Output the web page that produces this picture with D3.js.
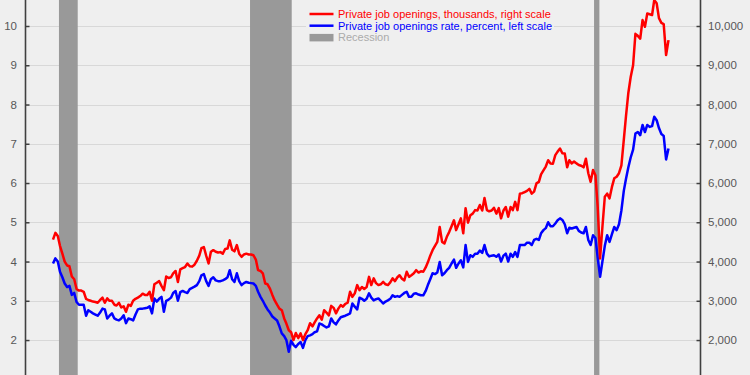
<!DOCTYPE html>
<html>
<head>
<meta charset="utf-8">
<script src="https://cdn.jsdelivr.net/npm/d3@7"></script>
<style>
  html, body { margin: 0; padding: 0; background: #efefef; overflow: hidden; }
  svg { display: block; font-family: "Liberation Sans", Arial, sans-serif; }
</style>
</head>
<body>
<div id="chart"></div>
<script>
// monthly data, first month Dec 2000
const startMonth = "2000-12";

// private job openings, thousands (right scale)
const openings = [
  4560,
  4730,4650,4400,4200,4000,3900,3880,3620,3550,3300,3260,3260,          // 2001
  3230,3050,3020,3000,2980,2970,2950,3020,3080,2950,3060,3000,          // 2002
  3000,2900,2880,2950,2830,2860,2720,2900,2870,3000,3050,3080,          // 2003
  3120,3180,3150,3150,3230,3000,3420,3460,3500,3380,3270,3620,          // 2004
  3580,3600,3700,3760,3480,3800,3830,3860,3950,3880,3870,3920,          // 2005
  4020,4150,4340,4370,4150,3950,4250,4290,4250,4230,4240,4200,          // 2006
  4320,4330,4540,4300,4260,4420,4200,4120,4180,4200,4180,4180,          // 2007
  4160,4050,3780,3760,3700,3440,3420,3310,3150,3010,2900,2800,          // 2008
  2760,2550,2420,2250,2200,2000,2180,2050,2170,2000,2150,2250,          // 2009
  2430,2350,2450,2550,2630,2520,2760,2700,2630,2870,2820,2680,          // 2010
  2800,2890,2850,2920,2950,3230,3100,3190,3400,3270,3350,3300,          // 2011
  3350,3610,3400,3570,3450,3400,3420,3480,3420,3400,3470,3570,          // 2012
  3500,3600,3650,3560,3520,3740,3610,3650,3700,3780,3720,3750,          // 2013
  3740,3850,3980,4150,4290,4400,4500,4880,4500,4460,4630,4750,          // 2014
  4900,5050,4800,4950,5100,4720,5360,4990,5180,5220,5310,5300,          // 2015
  5440,5300,5620,5310,5280,5300,5370,5220,5360,5100,5300,5390,          // 2016
  5140,5390,5310,5520,5310,5730,5740,5770,5800,5850,5730,5780,          // 2017
  5990,6030,6220,6320,6420,6580,6500,6490,6710,6800,6880,6760,          // 2018
  6750,6400,6580,6500,6550,6500,6460,6440,6400,6620,6250,6030,          // 2019
  6330,6200,5400,4080,4880,5650,5730,5610,5900,6120,6160,6250,          // 2020
  6450,7100,7700,8300,8700,9000,9800,9750,9680,10150,9980,10320,        // 2021
  10300,10280,10660,10580,10200,10080,10050,9260,9640                   // 2022
];

// private job openings rate, percent (left scale)
const openingsRate = [
  3.95,
  4.08,4.00,3.74,3.60,3.44,3.35,3.38,3.15,3.20,2.97,2.90,2.90,   // 2001
  2.90,2.62,2.76,2.72,2.68,2.65,2.62,2.70,2.80,2.78,2.55,2.62,   // 2002
  2.68,2.55,2.52,2.50,2.55,2.63,2.43,2.55,2.53,2.50,2.65,2.78,   // 2003
  2.80,2.80,2.81,2.82,2.86,2.68,3.06,2.98,3.05,3.10,2.72,3.00,   // 2004
  3.03,3.08,3.20,3.25,3.00,3.22,3.25,3.22,3.20,3.30,3.33,3.36,   // 2005
  3.40,3.50,3.65,3.68,3.50,3.38,3.55,3.60,3.52,3.50,3.50,3.52,   // 2006
  3.55,3.60,3.78,3.55,3.48,3.70,3.50,3.40,3.45,3.48,3.46,3.45,   // 2007
  3.44,3.38,3.23,3.10,3.00,2.88,2.78,2.70,2.60,2.55,2.50,2.35,   // 2008
  2.17,2.10,2.00,1.70,1.98,1.88,1.82,1.90,1.95,1.80,2.00,2.10,   // 2009
  2.12,2.15,2.20,2.22,2.42,2.40,2.36,2.32,2.35,2.55,2.45,2.40,   // 2010
  2.50,2.58,2.60,2.62,2.65,2.68,2.93,2.85,2.78,3.08,3.05,3.00,   // 2011
  3.05,3.19,3.08,3.01,3.04,3.06,3.00,2.93,2.98,3.01,3.05,3.14,   // 2012
  3.10,3.12,3.10,3.15,3.20,3.23,3.10,3.10,3.18,3.19,3.16,3.14,   // 2013
  3.14,3.25,3.40,3.55,3.70,3.68,3.72,3.99,3.65,3.70,3.78,3.84,   // 2014
  3.95,4.05,3.84,3.95,4.03,3.85,4.42,3.99,4.16,4.12,4.20,4.20,   // 2015
  4.28,4.22,4.42,4.20,4.13,4.15,4.16,4.12,4.18,4.00,4.15,4.20,   // 2016
  4.00,4.20,4.12,4.24,4.12,4.42,4.42,4.42,4.48,4.48,4.42,4.55,   // 2017
  4.58,4.55,4.72,4.80,4.85,5.00,4.90,4.90,4.97,5.05,5.10,5.06,   // 2018
  4.95,4.72,4.86,4.84,4.86,4.88,4.78,4.74,4.72,4.88,4.55,4.42,   // 2019
  4.67,4.60,4.10,3.61,4.00,4.40,4.67,4.50,4.70,4.88,4.80,4.95,   // 2020
  5.30,5.80,6.10,6.40,6.65,6.85,7.26,7.30,7.22,7.48,7.30,7.48,   // 2021
  7.43,7.45,7.69,7.60,7.40,7.25,7.20,6.60,6.88                   // 2022
];

// recession shading, as drawn
const recessions = [
  ["2001-02-16", "2001-10-16"],
  ["2007-11-18", "2009-05-09"],
  ["2020-01-14", "2020-03-23"]
];

const leftTicks = [1, 2, 3, 4, 5, 6, 7, 8, 9, 10];
const rightTicks = [1000, 2000, 3000, 4000, 5000, 6000, 7000, 8000, 9000, 10000];

const legendItems = [
  { label: "Private job openings, thousands, right scale", color: "#ff0000", type: "line" },
  { label: "Private job openings rate, percent, left scale", color: "#0000ff", type: "line" },
  { label: "Recession", color: "#999999", text: "#ababab", type: "box" }
];

const boxWidth = 750;
const boxHeight = 375;
const bg = '#efefef';
const axisColor = '#404040';

const svg = d3.select('#chart')
  .append('svg')
  .attr('width', boxWidth)
  .attr('height', boxHeight);

svg.append('rect')
  .attr('width', boxWidth)
  .attr('height', boxHeight)
  .attr('fill', bg);

const plotLeft = 25.5;
const plotRight = 700.5;

const parseMonth = d3.timeParse('%Y-%m');
const parseDay = d3.timeParse('%Y-%m-%d');
const first = parseMonth(startMonth);
const months = d3.timeMonth.range(first, d3.timeMonth.offset(first, openings.length));

// scales
const xScale = d3.scaleTime()
  .domain([months[0], months[months.length - 1]])
  .range([53, 668.5]);

const yLeft = d3.scaleLinear()
  .domain([1, 10])
  .range([379.3, 26]);

const yRight = d3.scaleLinear()
  .domain([1000, 10000])
  .range([379.3, 26]);

// gridlines
svg.append('g')
  .selectAll('line')
  .data(leftTicks)
  .enter()
  .append('line')
  .attr('x1', plotLeft)
  .attr('x2', plotRight)
  .attr('y1', d => Math.round(yLeft(d)) + 0.5)
  .attr('y2', d => Math.round(yLeft(d)) + 0.5)
  .attr('stroke', '#d8d8d8')
  .attr('stroke-width', 1);

// recession bars
svg.append('g')
  .selectAll('rect')
  .data(recessions)
  .enter()
  .append('rect')
  .attr('x', d => xScale(parseDay(d[0])))
  .attr('width', d => xScale(parseDay(d[1])) - xScale(parseDay(d[0])))
  .attr('y', 0)
  .attr('height', boxHeight)
  .attr('fill', '#999999');

// axes
const leftAxis = d3.axisLeft(yLeft)
  .tickValues(leftTicks)
  .tickSize(-4)
  .tickPadding(8.5)
  .tickFormat(d3.format('d'));

const rightAxis = d3.axisRight(yRight)
  .tickValues(rightTicks)
  .tickSize(-4)
  .tickPadding(7.5)
  .tickFormat(d3.format(','));

const leftGroup = svg.append('g')
  .attr('transform', `translate(${plotLeft}, 0)`)
  .call(leftAxis);

const rightGroup = svg.append('g')
  .attr('transform', `translate(${plotRight}, 0)`)
  .call(rightAxis);

[leftGroup, rightGroup].forEach(g => {
  g.select('.domain').remove();
  g.selectAll('line')
    .attr('stroke', axisColor)
    .attr('stroke-width', 1.5);
  g.selectAll('text')
    .attr('fill', '#575757')
    .style('font-size', '11.5px')
    .style('font-family', '"Liberation Sans", Arial, sans-serif');
});

[plotLeft, plotRight].forEach(x => {
  svg.append('line')
    .attr('x1', x).attr('x2', x)
    .attr('y1', 0).attr('y2', boxHeight)
    .attr('stroke', axisColor)
    .attr('stroke-width', 1.6);
});

// series lines
const rateLine = d3.line()
  .x((d, i) => xScale(months[i]))
  .y(d => yLeft(d));

const openingsLine = d3.line()
  .x((d, i) => xScale(months[i]))
  .y(d => yRight(d));

svg.append('path')
  .datum(openingsRate)
  .attr('fill', 'none')
  .attr('stroke', '#0000ff')
  .attr('stroke-width', 2.5)
  .attr('stroke-linejoin', 'round')
  .attr('d', rateLine);

svg.append('path')
  .datum(openings)
  .attr('fill', 'none')
  .attr('stroke', '#ff0000')
  .attr('stroke-width', 2.5)
  .attr('stroke-linejoin', 'round')
  .attr('d', openingsLine);

// legend
const legend = svg.append('g')
  .attr('transform', 'translate(306, 7)');

legend.append('rect')
  .attr('x', 0)
  .attr('y', 0)
  .attr('width', 248)
  .attr('height', 37)
  .attr('fill', bg);

const rows = legend.selectAll('g.row')
  .data(legendItems)
  .enter()
  .append('g')
  .attr('class', 'row')
  .attr('transform', (d, i) => `translate(0, ${7 + i * 11.7})`);

rows.filter(d => d.type === 'line')
  .append('line')
  .attr('x1', 3.5)
  .attr('x2', 27.5)
  .attr('y1', 0)
  .attr('y2', 0)
  .attr('stroke', d => d.color)
  .attr('stroke-width', 2.5);

rows.filter(d => d.type === 'box')
  .append('rect')
  .attr('x', 3.5)
  .attr('y', -3.5)
  .attr('width', 24)
  .attr('height', 7.5)
  .attr('fill', d => d.color);

rows.append('text')
  .attr('x', 32)
  .attr('y', 4)
  .attr('fill', d => d.text || d.color)
  .style('font-size', '11px')
  .text(d => d.label);
</script>
</body>
</html>
